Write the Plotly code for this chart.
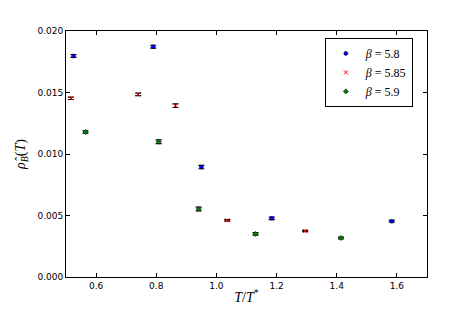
import plotly.graph_objects as go

x_58 = [0.525, 0.790, 0.950, 1.184, 1.583]
y_58 = [0.01797, 0.01872, 0.00894, 0.00477, 0.00453]
e_58 = [0.00012, 0.00012, 0.00014, 0.00010, 0.00008]

x_585 = [0.516, 0.740, 0.864, 1.036, 1.295]
y_585 = [0.01453, 0.01485, 0.01393, 0.00461, 0.00374]
e_585 = [0.00010, 0.00010, 0.00015, 0.00006, 0.00005]

x_59 = [0.565, 0.808, 0.941, 1.130, 1.414]
y_59 = [0.01179, 0.01100, 0.00553, 0.00350, 0.00317]
e_59 = [0.00010, 0.00015, 0.00015, 0.00010, 0.00008]

series = [
    ("<i>β</i> = 5.8", x_58, y_58, e_58, "#0000ff", "circle"),
    ("<i>β</i> = 5.85", x_585, y_585, e_585, "#ff0000", "x-thin-open"),
    ("<i>β</i> = 5.9", x_59, y_59, e_59, "#008000", "diamond"),
]

fig = go.Figure()
for name, xs, ys, es, col, sym in series:
    fig.add_trace(go.Scatter(
        x=xs, y=ys, mode="markers", name=name,
        marker=dict(color=col, size=4, symbol=sym,
                    line=dict(color=col if "x" in sym else "black", width=1 if "x" in sym else 0.5)),
        error_y=dict(type="data", array=es, color="black", thickness=1.2, width=3),
    ))

axis_common = dict(showgrid=False, zeroline=False, showline=True, linecolor="black",
                   linewidth=1, mirror="ticks", ticks="inside", ticklen=4,
                   tickcolor="black", tickfont=dict(family="DejaVu Sans", size=9, color="black"))

fig.update_layout(
    width=474, height=316,
    margin=dict(l=51, r=55, t=23, b=47),
    paper_bgcolor="white", plot_bgcolor="white",
    xaxis=dict(range=[0.5, 1.7], tickvals=[0.6, 0.8, 1.0, 1.2, 1.4, 1.6],
               ticktext=["0.6", "0.8", "1.0", "1.2", "1.4", "1.6"],
               title=dict(text="<i>T</i>/<i>T</i><sup>*</sup>", standoff=2,
                          font=dict(family="Liberation Serif", size=14, color="black")),
               **axis_common),
    yaxis=dict(range=[0, 0.020], tickvals=[0, 0.005, 0.010, 0.015, 0.020],
               ticktext=["0.000", "0.005", "0.010", "0.015", "0.020"],
               title=dict(text="<i>ρ̂</i><sub><i>B</i></sub>(<i>T</i>)", standoff=8,
                          font=dict(family="Liberation Serif", size=14, color="black")),
               **axis_common),
    legend=dict(x=0.717, y=0.972, xanchor="left", yanchor="top",
                bordercolor="black", borderwidth=1, bgcolor="white",
                font=dict(family="Liberation Serif", size=12, color="black"),
                itemwidth=30, tracegroupgap=0),
    showlegend=True,
)

fig.write_html("out.html")
